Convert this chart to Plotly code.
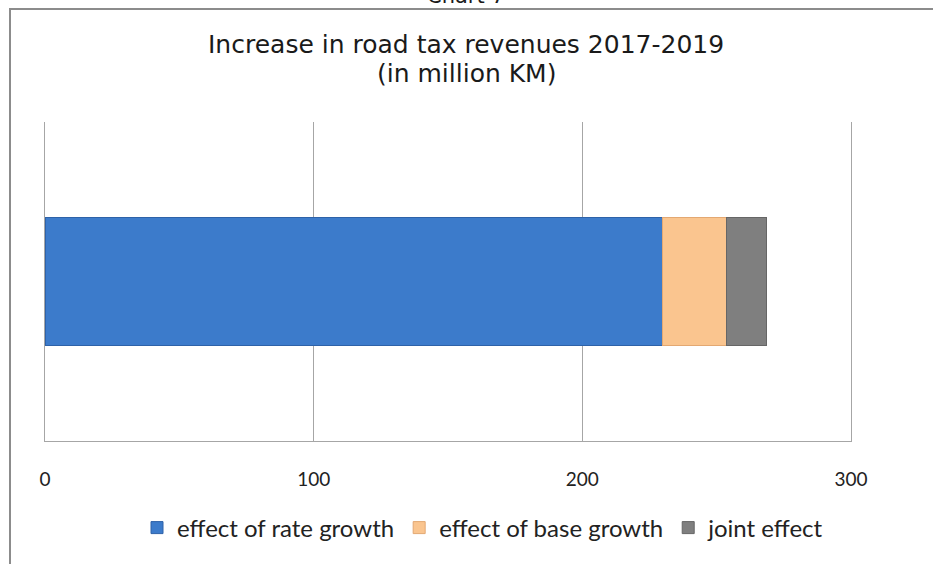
import plotly.graph_objects as go

# Decomposition of the road tax revenue increase, 2017-2019 (million KM)
category = [""]
series_names = ["effect of rate growth", "effect of base growth", "joint effect"]
series_values = [230.0, 23.5, 15.2]
series_colors = ["#3C7BCB", "#FAC58F", "#7F7F7F"]
edge_colors = ["#2E62A8", "#E3A872", "#666666"]
tick_values = [0, 100, 200, 300]

TITLE_FONT = "DejaVu Sans"
BODY_FONT = "Lato"

fig = go.Figure()
for name, val, col, edge in zip(series_names, series_values, series_colors, edge_colors):
    fig.add_trace(go.Bar(
        y=category, x=[val], name=name, orientation="h",
        marker=dict(color=col, line=dict(color=edge, width=1)),
        width=0.4,
    ))

W, H = 933, 564
ml, mr, mt, mb = 45, 82, 122, 123
pw, ph = W - ml - mr, H - mt - mb

def px_x(p):
    return (p - ml) / pw

def px_y(p):
    return (H - mb - p) / ph

fig.update_layout(
    width=W, height=H,
    barmode="stack",
    margin=dict(l=ml, r=mr, t=mt, b=mb),
    paper_bgcolor="white", plot_bgcolor="white",
    font=dict(family=BODY_FONT, color="#222222"),
    xaxis=dict(
        range=[0, 300], tickvals=tick_values,
        showgrid=True, gridcolor="#a6a6a6", gridwidth=1,
        zeroline=False, showline=True, linecolor="#a6a6a6", linewidth=1,
        ticks="", ticklabelstandoff=21,
        tickfont=dict(family=BODY_FONT, size=19, color="#222222"),
        fixedrange=True,
    ),
    yaxis=dict(showticklabels=False, showgrid=False, zeroline=False,
               showline=True, mirror=True, linecolor="#a6a6a6", linewidth=1,
               range=[-0.5, 0.5]),
    legend=dict(
        orientation="h", x=px_x(483), xanchor="center",
        y=px_y(528), yanchor="middle",
        font=dict(family=BODY_FONT, size=24, color="#222222"),
        traceorder="normal", itemwidth=30,
        bgcolor="rgba(0,0,0,0)",
    ),
    showlegend=True,
)

# Two-line chart title
title_lines = ["Increase in road tax revenues 2017-2019", "(in million KM)"]
for line, ypix in zip(title_lines, [45, 73]):
    fig.add_annotation(text=line, xref="paper", yref="paper",
                       x=px_x(466), y=px_y(ypix), showarrow=False,
                       xanchor="center", yanchor="middle",
                       font=dict(family=TITLE_FONT, size=25, color="#1a1a1a"))

# Outer chart frame
fig.add_shape(type="rect", xref="paper", yref="paper",
              x0=px_x(10), x1=px_x(960), y0=px_y(9), y1=px_y(600),
              line=dict(color="#8c8c8c", width=2), layer="below")

# Caption above the frame
fig.add_annotation(text="Chart 7", xref="paper", yref="paper",
                   x=px_x(466), y=px_y(-4), showarrow=False,
                   xanchor="center", yanchor="middle",
                   font=dict(family=TITLE_FONT, size=21, color="#1a1a1a"))

fig.write_html("out.html")
